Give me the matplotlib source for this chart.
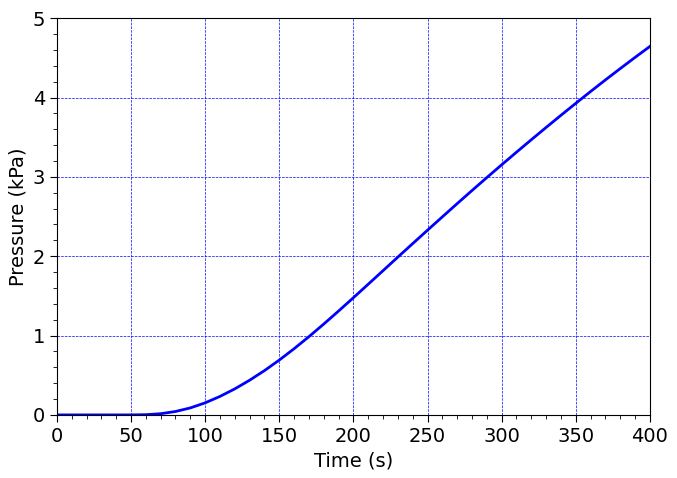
"""
Pressure build-up over time.
"""
import matplotlib
matplotlib.use("Agg")
import matplotlib.pyplot as plt
import matplotlib.ticker as mticker

# Values (every 10 s)
time_s = [0, 10, 20, 30, 40, 50, 60, 70, 80, 90,
          100, 110, 120, 130, 140, 150, 160, 170, 180, 190,
          200, 210, 220, 230, 240, 250, 260, 270, 280, 290,
          300, 310, 320, 330, 340, 350, 360, 370, 380, 390, 400]
pressure_kpa = [0.0, 0.0, 0.0, 0.0, 0.0, 0.0, 0.003, 0.015, 0.043, 0.088,
                0.152, 0.233, 0.328, 0.437, 0.558, 0.691, 0.834, 0.986, 1.145, 1.309,
                1.477, 1.647, 1.818, 1.989, 2.159, 2.328, 2.496, 2.663, 2.828, 2.991,
                3.152, 3.311, 3.468, 3.623, 3.776, 3.927, 4.076, 4.222, 4.365, 4.506, 4.644]

fig = plt.figure(figsize=(6.77, 4.78), dpi=100)
ax = fig.add_axes([0.084, 0.132, 0.876, 0.830])

ax.plot(time_s, pressure_kpa, color="blue", linewidth=2)

ax.set_xlim(0, 400)
ax.set_ylim(0, 5)
ax.xaxis.set_major_locator(mticker.MultipleLocator(50))
ax.xaxis.set_minor_locator(mticker.MultipleLocator(10))
ax.yaxis.set_major_locator(mticker.MultipleLocator(1))
ax.yaxis.set_minor_locator(mticker.MultipleLocator(0.2))
ax.tick_params(axis="both", which="major", labelsize=14, length=5)
ax.tick_params(axis="both", which="minor", length=3)

ax.grid(which="major", color="blue", linestyle="--", linewidth=0.5)

ax.set_xlabel("Time (s)", fontsize=14)
ax.set_ylabel("Pressure (kPa)", fontsize=14)

fig.savefig("out.png", dpi=100)
